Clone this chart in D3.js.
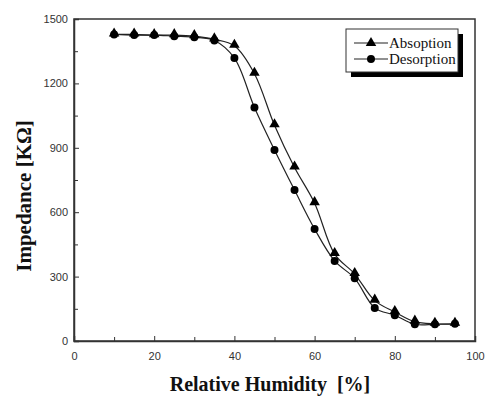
<!DOCTYPE html>
<html>
<head>
<meta charset="utf-8">
<script src="https://cdn.jsdelivr.net/npm/d3@7"></script>
<style>
  body { margin: 0; background: #fff; }
  .tick text { font-family: "Liberation Sans", Arial, sans-serif; font-size: 11px; fill: #333; }
</style>
</head>
<body>
<div id="chart"></div>
<script>
const humidity = [10, 15, 20, 25, 30, 35, 40, 45, 50, 55, 60, 65, 70, 75, 80, 85, 90, 95];
const absorption = [1428, 1428, 1425, 1425, 1420, 1405, 1375, 1245, 1005, 808, 642, 405, 312, 188, 135, 90, 80, 80];
const desorption = [1428, 1425, 1425, 1420, 1415, 1400, 1318, 1088, 890, 703, 522, 373, 292, 154, 120, 78, 78, 80];
const xTicks = [0, 20, 40, 60, 80, 100];
const yTicks = [0, 300, 600, 900, 1200, 1500];

const W = 485, H = 397;
const margin = { top: 19, right: 10, bottom: 56, left: 74 };
const width = 475 - margin.left;
const height = 341 - margin.top;

const svg = d3.select("#chart").append("svg")
    .attr("width", W)
    .attr("height", H);

const g = svg.append("g")
    .attr("transform", `translate(${margin.left}, ${margin.top})`);

const x = d3.scaleLinear().domain([0, 100]).range([0, width]);
const y = d3.scaleLinear().domain([0, 1500]).range([height, 0]);

// frame
g.append("rect")
    .attr("width", width)
    .attr("height", height)
    .attr("fill", "none")
    .attr("stroke", "#333")
    .attr("stroke-width", 1.5);

// minor ticks (inward)
const xAxisMinor = d3.axisBottom(x).tickValues(d3.range(10, 100, 20)).tickSize(-4).tickFormat("");
const yAxisMinor = d3.axisLeft(y).tickValues(d3.range(150, 1500, 300)).tickSize(-4).tickFormat("");

const xAxis = d3.axisBottom(x).tickValues(xTicks).tickSize(-5).tickPadding(11).tickFormat(d3.format("d"));
const yAxis = d3.axisLeft(y).tickValues(yTicks).tickSize(-5).tickPadding(6).tickFormat(d3.format("d"));

g.append("g").attr("transform", `translate(0, ${height})`).call(xAxisMinor)
    .call(a => a.select(".domain").remove());
g.append("g").call(yAxisMinor)
    .call(a => a.select(".domain").remove());

g.append("g").attr("class", "x-axis").attr("transform", `translate(0, ${height})`).call(xAxis)
    .call(a => a.select(".domain").attr("stroke", "#333").attr("stroke-width", 1.5));
g.append("g").attr("class", "y-axis").call(yAxis)
    .call(a => a.select(".domain").attr("stroke", "#333").attr("stroke-width", 1.5));

g.selectAll(".tick line").attr("stroke", "#333");

// curves
const line = d3.line()
    .x(d => x(d[0]))
    .y(d => y(d[1]))
    .curve(d3.curveCatmullRom.alpha(0.5));

const absData = humidity.map((h, i) => [h, absorption[i]]);
const desData = humidity.map((h, i) => [h, desorption[i]]);

[absData, desData].forEach(data => {
    g.append("path")
        .datum(data)
        .attr("fill", "none")
        .attr("stroke", "#222")
        .attr("stroke-width", 1.2)
        .attr("d", line);
});

const triangle = d3.symbol().type(d3.symbolTriangle).size(48);
const circle = d3.symbol().type(d3.symbolCircle).size(50);

g.selectAll(".des-pt")
    .data(desData)
    .enter().append("path")
    .attr("class", "des-pt")
    .attr("d", circle)
    .attr("transform", d => `translate(${x(d[0])}, ${y(d[1])})`)
    .attr("fill", "#000");

g.selectAll(".abs-pt")
    .data(absData)
    .enter().append("path")
    .attr("class", "abs-pt")
    .attr("d", triangle)
    .attr("transform", d => `translate(${x(d[0])}, ${y(d[1]) - 1})`)
    .attr("fill", "#000");

// legend
const lg = svg.append("g").attr("transform", "translate(346, 29)");
lg.append("rect").attr("x", 5).attr("y", 5).attr("width", 112).attr("height", 43).attr("fill", "#000");
lg.append("rect").attr("width", 112).attr("height", 43).attr("fill", "#fff").attr("stroke", "#333").attr("stroke-width", 1);

const legendItems = [
    { label: "Absoption", sym: triangle, dy: 14 },
    { label: "Desorption", sym: circle, dy: 30 }
];
legendItems.forEach(d => {
    lg.append("line").attr("x1", 8).attr("x2", 42).attr("y1", d.dy).attr("y2", d.dy)
        .attr("stroke", "#222").attr("stroke-width", 1.2);
    lg.append("path").attr("d", d.sym).attr("fill", "#000")
        .attr("transform", `translate(25, ${d.dy})`);
    lg.append("text").attr("x", 43).attr("y", d.dy + 5)
        .attr("font-family", "Liberation Serif, Times New Roman, serif")
        .attr("font-size", 15)
        .attr("fill", "#111")
        .text(d.label);
});

// axis titles
svg.append("text")
    .attr("x", 270)
    .attr("y", 391)
    .attr("text-anchor", "middle")
    .attr("font-family", "Liberation Serif, Times New Roman, serif")
    .attr("font-weight", "bold")
    .attr("font-size", 20)
    .attr("fill", "#111")
    .attr("xml:space", "preserve")
    .text("Relative Humidity  [%]");

svg.append("text")
    .attr("transform", "translate(31, 196) rotate(-90)")
    .attr("text-anchor", "middle")
    .attr("font-family", "Liberation Serif, Times New Roman, serif")
    .attr("font-weight", "bold")
    .attr("font-size", 21)
    .attr("fill", "#111")
    .text("Impedance [KΩ]");
</script>
</body>
</html>
